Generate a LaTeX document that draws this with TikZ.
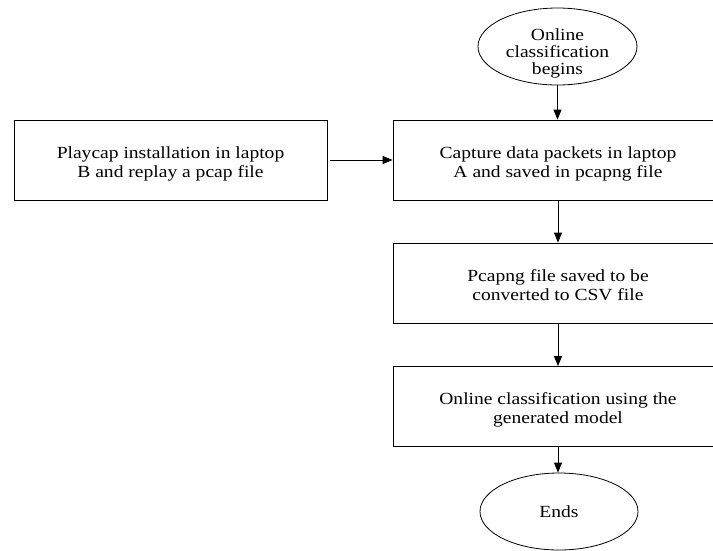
\documentclass[tikz,border=0pt]{standalone}
\usepackage{fontspec}
\usepackage{graphicx}
\setmainfont{Liberation Serif}
\usetikzlibrary{shapes.geometric,arrows.meta}
\newcommand{\boxtxt}[2][4.5pt]{\raisebox{-#1}[\height][\depth]{\scalebox{1.15}[1]{\begin{tabular}{@{}c@{}}#2\end{tabular}}}}
\tikzset{
  procbox/.style={draw, line width=0.8pt, font=\fontsize{17}{18.8}\selectfont, inner sep=0pt},
  termnode/.style={draw, ellipse, line width=0.8pt, font=\fontsize{17}{17}\selectfont, inner sep=0pt, minimum width=159pt, minimum height=77pt},
  flow/.style={line width=0.8pt, -{Triangle[length=10pt,width=8pt]}}
}
\begin{document}
\begin{tikzpicture}[x=1pt,y=-1pt]
\clip (0,0) rectangle (713,550);
\useasboundingbox (0,0) rectangle (713,550);
\node[termnode] (start) at (557.5,46.5) {\boxtxt[8pt]{Online\\classification\\begins}};
\node[procbox, minimum width=313pt, minimum height=80pt] (play) at (170.5,160) {\boxtxt{Playcap installation in laptop\\B and replay a pcap file}};
\node[procbox, minimum width=330pt, minimum height=80pt] (cap) at (558,160) {\boxtxt{Capture data packets in laptop\\A and saved in pcapng file}};
\node[procbox, minimum width=330pt, minimum height=80pt] (conv) at (558,283) {\boxtxt{Pcapng file saved to be\\converted to CSV file}};
\node[procbox, minimum width=330pt, minimum height=80pt] (cls) at (558,406.5) {\boxtxt[3.5pt]{Online classification using the\\generated model}};
\node[termnode, minimum width=158pt] (end) at (559,511.5) {\boxtxt[3pt]{Ends}};
\draw[flow] (start.south) -- (start.south |- cap.north);
\draw[flow] ([xshift=3pt]play.east) -- (cap.west);
\draw[flow] (cap.south) -- (conv.north);
\draw[flow] (conv.south) -- (cls.north);
\draw[flow] (cls.south) -- (cls.south |- end.north);
\end{tikzpicture}
\end{document}
